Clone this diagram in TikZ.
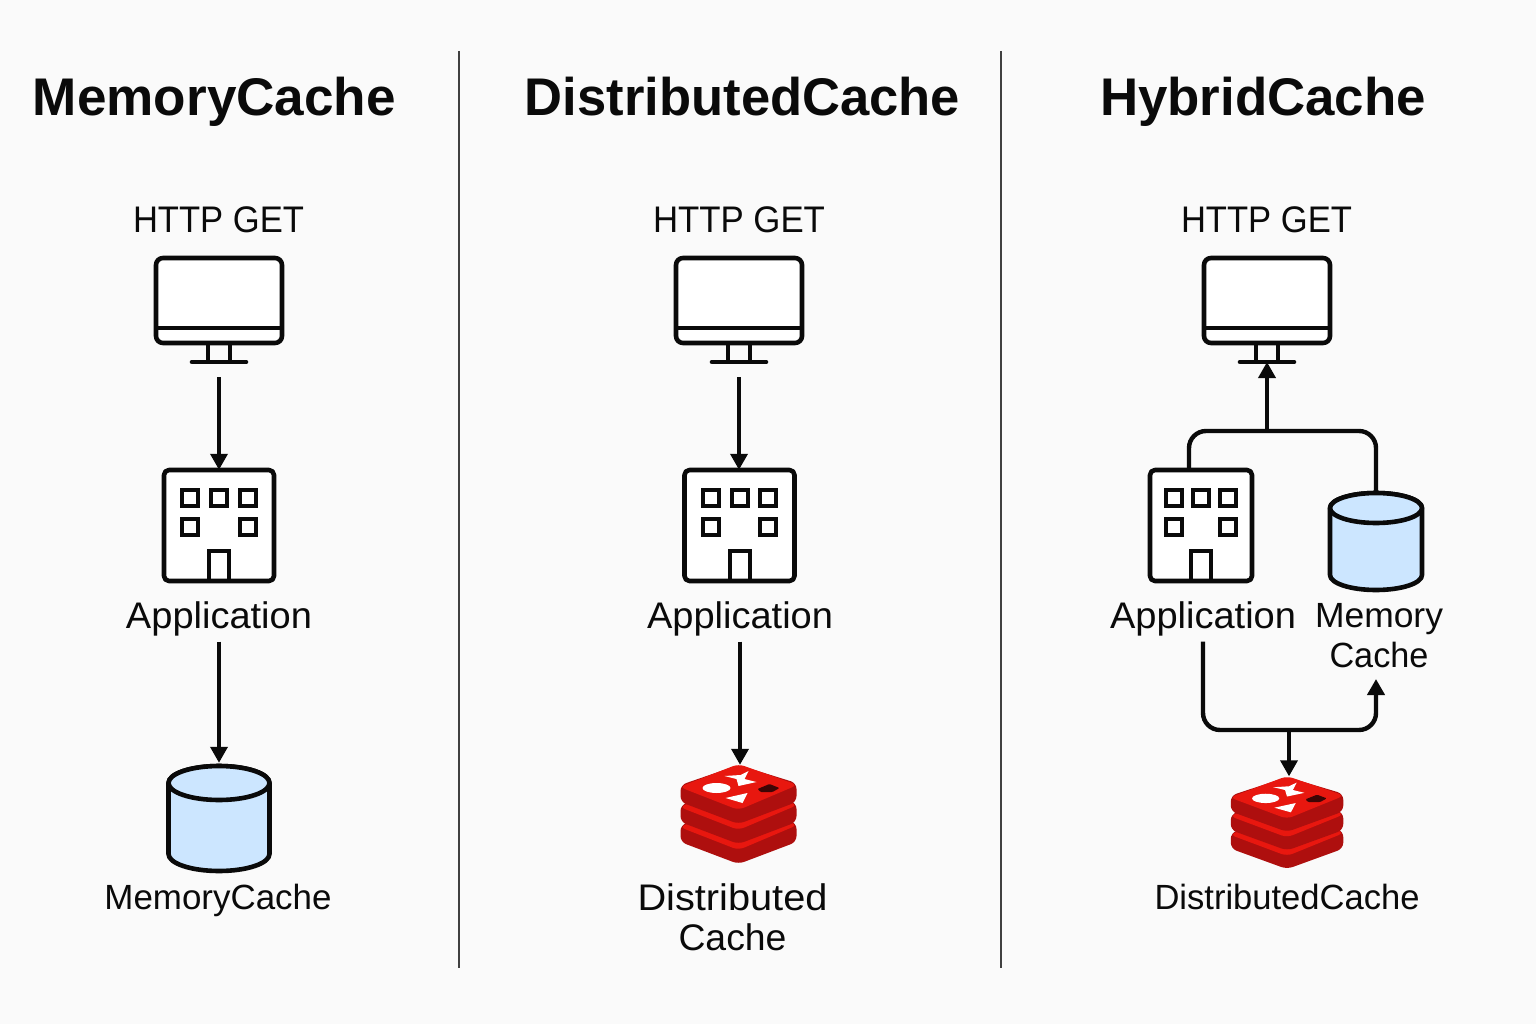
\documentclass[tikz,border=0pt]{standalone}
\usepackage{graphicx}
\usepackage{fontspec}
\setmainfont{Liberation Sans}
\usetikzlibrary{arrows.meta}
\definecolor{bgc}{HTML}{FAFAFA}
\definecolor{ink}{HTML}{0A0A0A}
\definecolor{dbblue}{HTML}{CCE6FF}
\definecolor{rbright}{HTML}{E8170F}
\definecolor{rdark}{HTML}{AE0F0E}
\definecolor{rspot}{HTML}{3D0505}
\tikzset{
  x=1pt,y=-1pt,
  icon/.style={draw=ink,line width=4.6pt,line join=round},
  arrowline/.style={draw=ink,line width=3.6pt,-{Triangle[length=16pt,width=17pt]}},
  wireline/.style={draw=ink,line width=4.4pt,rounded corners=17pt},
  label/.style={inner sep=0pt,outer sep=0pt,anchor=base,text=ink},
  twolines/.style={inner sep=0pt,outer sep=0pt,anchor=north,text=ink,align=center,font=\fontsize{37}{40}\selectfont},
  divider/.style={draw=black!75,line width=1.5pt},
}
\newcommand{\fitw}[3]{\resizebox{#1pt}{\height}{\fontsize{#2}{#2}\selectfont #3}}
\newcommand{\monitoricon}[2]{% name, cx
  \begin{scope}[shift={(#2,0)}]
    \draw[icon] (-11,343) -- (-11,361) (11,343) -- (11,361);
    \draw[icon,line cap=round] (-27,362) -- (27,362);
    \draw[icon,fill=white,rounded corners=7pt] (-63,258) rectangle (63,343);
    \draw[icon] (-63,328) -- (63,328);
    \node[inner sep=0pt,minimum width=126pt,minimum height=85pt] (#1) at (0,300.5) {};
    \coordinate (#1base) at (0,364);
  \end{scope}}
\newcommand{\buildingicon}[3]{% name, cx, half width
  \begin{scope}[shift={(#2,0)}]
    \draw[icon,fill=white,rounded corners=5pt] (-#3,470) rectangle (#3,581);
    \foreach \wx/\wy in {-1/498,0/498,1/498,-1/527,1/527}{
      \draw[draw=ink,line width=4pt] ({\wx*(#3/1.9)-8},\wy-8) rectangle ({\wx*(#3/1.9)+8},\wy+8);
    }
    \draw[draw=ink,line width=4pt] (-10,581) -- (-10,551) -- (10,551) -- (10,581);
    \node[inner sep=0pt,minimum width=2*#3 pt,minimum height=111pt] (#1) at (0,525.5) {};
  \end{scope}}
\newcommand{\cylindericon}[6]{% name, cx, rx, ry, ellipse y, bottom y
  \begin{scope}[shift={(#2,0)}]
    \draw[icon,fill=dbblue] (-#3,#5) -- (-#3,#6-#4) arc[start angle=180,end angle=360,x radius=#3,y radius=-#4] -- (#3,#5) arc[start angle=0,end angle=180,x radius=#3,y radius=-#4] -- cycle;
    \draw[icon,fill=dbblue] (0,#5) ellipse[x radius=#3,y radius=#4];
    \node[inner sep=0pt,minimum width=2*#3 pt,minimum height=#6-#5+#4] (#1) at (0,{(#5-#4+#6)/2}) {};
  \end{scope}}
\newcommand{\redislayer}[1]{%
  \fill[rdark,rounded corners=6pt] (-58,20+#1) -- (-58,37+#1) -- (0,59+#1) -- (58,37+#1) -- (58,18+#1) -- (0,#1) -- cycle;
  \fill[rbright,rounded corners=6pt] (-59,22+#1) -- (0,45+#1) -- (59,20+#1) -- (0,-1+#1) -- cycle;
}
\newcommand{\redisicon}[5]{% name, cx, top, xscale, yscale
  \begin{scope}[shift={(#2,#3)},xscale=#4,yscale=#5]
    \redislayer{40}
    \redislayer{20}
    \redislayer{0}
    \fill[white] (-22,23) ellipse[x radius=14,y radius=5];
    \fill[white] (-14,11) -- (2,10) -- (10,6) -- (6,14) -- (18,17) -- (0,21) -- (-2,14) -- cycle;
    \fill[white] (-13,33) -- (9,28) -- (4,38) -- cycle;
    \fill[rspot,rounded corners=1pt] (19,24) -- (31,19) -- (41,23) -- (34,27) -- (22,27) -- cycle;
    \node[inner sep=0pt,minimum width=116pt,minimum height=99pt] (#1) at (0,49.5) {};
  \end{scope}}
\begin{document}
\begin{tikzpicture}
\fill[bgc] (0,0) rectangle (1536,1024);
\useasboundingbox (0,0) rectangle (1536,1024);
\coordinate (d1t) at (459,51); \coordinate (d1b) at (459,968);
\coordinate (d2t) at (1001,51); \coordinate (d2b) at (1001,968);
\draw[divider] (d1t) -- (d1b);
\draw[divider] (d2t) -- (d2b);
% titles
\node[label] (t1) at (214.5,116) {\fitw{363}{53}{\bfseries MemoryCache}};
\node[label] (t2) at (742.5,116) {\fitw{435}{53}{\bfseries DistributedCache}};
\node[label] (t3) at (1263,116) {\fitw{326}{53}{\bfseries HybridCache}};
% http labels
\node[label] (h1) at (218.5,233) {\fitw{171}{37}{HTTP GET}};
\node[label] (h2) at (739,233) {\fitw{172}{37}{HTTP GET}};
\node[label] (h3) at (1266.5,233) {\fitw{171}{37}{HTTP GET}};
% column 1
\monitoricon{m1}{219}
\buildingicon{b1}{219}{55}
\node[label] (l1) at (219,628) {\fitw{186}{37}{Application}};
\cylindericon{c1}{219}{50.5}{17}{783}{871}
\node[label] (n1) at (218,909) {\fitw{227}{35}{MemoryCache}};
\draw[arrowline,shorten <=13pt] (m1base) -- (b1.north);
\draw[arrowline,shorten <=6pt,shorten >=3pt] (l1.south) -- (c1.north);
% column 2
\monitoricon{m2}{739}
\buildingicon{b2}{739.5}{55}
\node[label] (l2) at (740,628) {\fitw{186}{37}{Application}};
\redisicon{r2}{738.5}{765}{1}{1}
\node[twolines] (n2) at (732.5,884) {\fitw{190}{37}{Distributed}\\\fitw{108}{37}{Cache}};
\draw[arrowline,shorten <=13pt] (m2base) -- (m2base |- b2.north);
\draw[arrowline,shorten <=6pt] (l2.south) -- (l2.south |- r2.north);
% column 3
\monitoricon{m3}{1267}
\buildingicon{b3}{1201}{51}
\node[label] (l3) at (1203,628) {\fitw{186}{37}{Application}};
\cylindericon{c3}{1376}{46}{15}{508}{590}
\node[twolines] (n3) at (1379,603) {\fitw{128}{35}{Memory}\\\fitw{99}{35}{Cache}};
\redisicon{r3}{1287}{777}{0.97}{0.93}
\node[label] (n4) at (1287,909) {\fitw{265}{35}{DistributedCache}};
\coordinate (j3) at (1267,431);
\coordinate (j4) at (1289,730);
\coordinate (e3) at (1376,679);
\draw[wireline] ([xshift=-12pt]b3.north) |- (j3) -| (c3.north);
\draw[arrowline,shorten >=-2pt] (j3) -- (m3base);
\draw[wireline,-{Triangle[length=16pt,width=17pt]}] (l3.south) ++(0,6) |- (j4) -| (e3);
\draw[arrowline,shorten >=-3pt] (j4) -- (j4 |- r3.north);
\end{tikzpicture}
\end{document}
